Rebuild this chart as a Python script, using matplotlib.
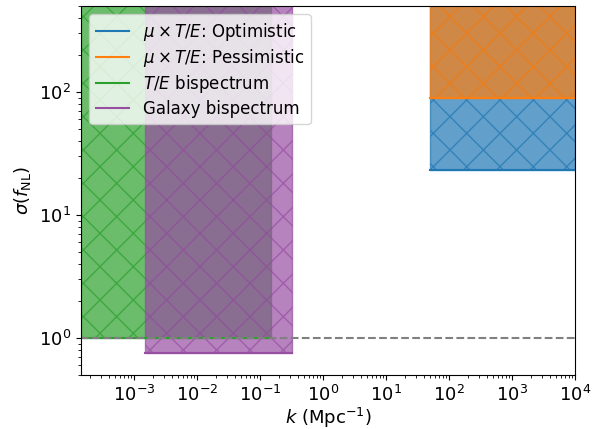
import numpy as np
import matplotlib
matplotlib.use("Agg")
import matplotlib.pyplot as plt

plt.rcParams['font.size'] = 13

# Data
labels = [r"$\mu\times T/E$: Optimistic", r"$\mu\times T/E$: Pessimistic",
          r"$T/E$ bispectrum", "Galaxy bispectrum"]
colors = ["tab:blue", "tab:orange", "tab:green", "#984ea3"]
k_min = [50.0, 50.0, 1.43e-4, 1.5e-3]
k_max = [1e4, 1e4, 0.148, 0.32]
sigma_low = [23.0, 90.0, 1.0, 0.75]
sigma_high = [2000.0, 2000.0, 2000.0, 2000.0]
draw_order = [2, 3, 0, 1]

xlim = (1.43e-4, 1e4)
ylim = (0.5, 500)

fig = plt.figure(figsize=(5.99, 4.29), dpi=100)
ax = fig.add_axes([81/599, 54/429, 494/599, 369/429])

lines = {}
for i in draw_order:
    k = np.array([k_min[i], k_max[i]])
    ax.fill_between(k, sigma_low[i], sigma_high[i], color=colors[i], alpha=0.7, hatch='x')
    ln, = ax.plot(k, [sigma_low[i]] * 2, color=colors[i], label=labels[i])
    lines[i] = ln

ax.axhline(1.0, color='gray', ls='--')
ax.set_xscale('log')
ax.set_yscale('log')
ax.set_xlim(*xlim)
ax.set_ylim(*ylim)
ax.set_xticks([10.0**p for p in range(-3, 5)])
ax.set_xlabel(r"$k$ (Mpc$^{-1}$)", labelpad=1)
ax.set_ylabel(r"$\sigma(f_{\rm NL})$")
ax.legend(handles=[lines[i] for i in range(4)], loc='upper left', fontsize=12,
          labelspacing=0.25)

fig.savefig("out.png", dpi=100)
